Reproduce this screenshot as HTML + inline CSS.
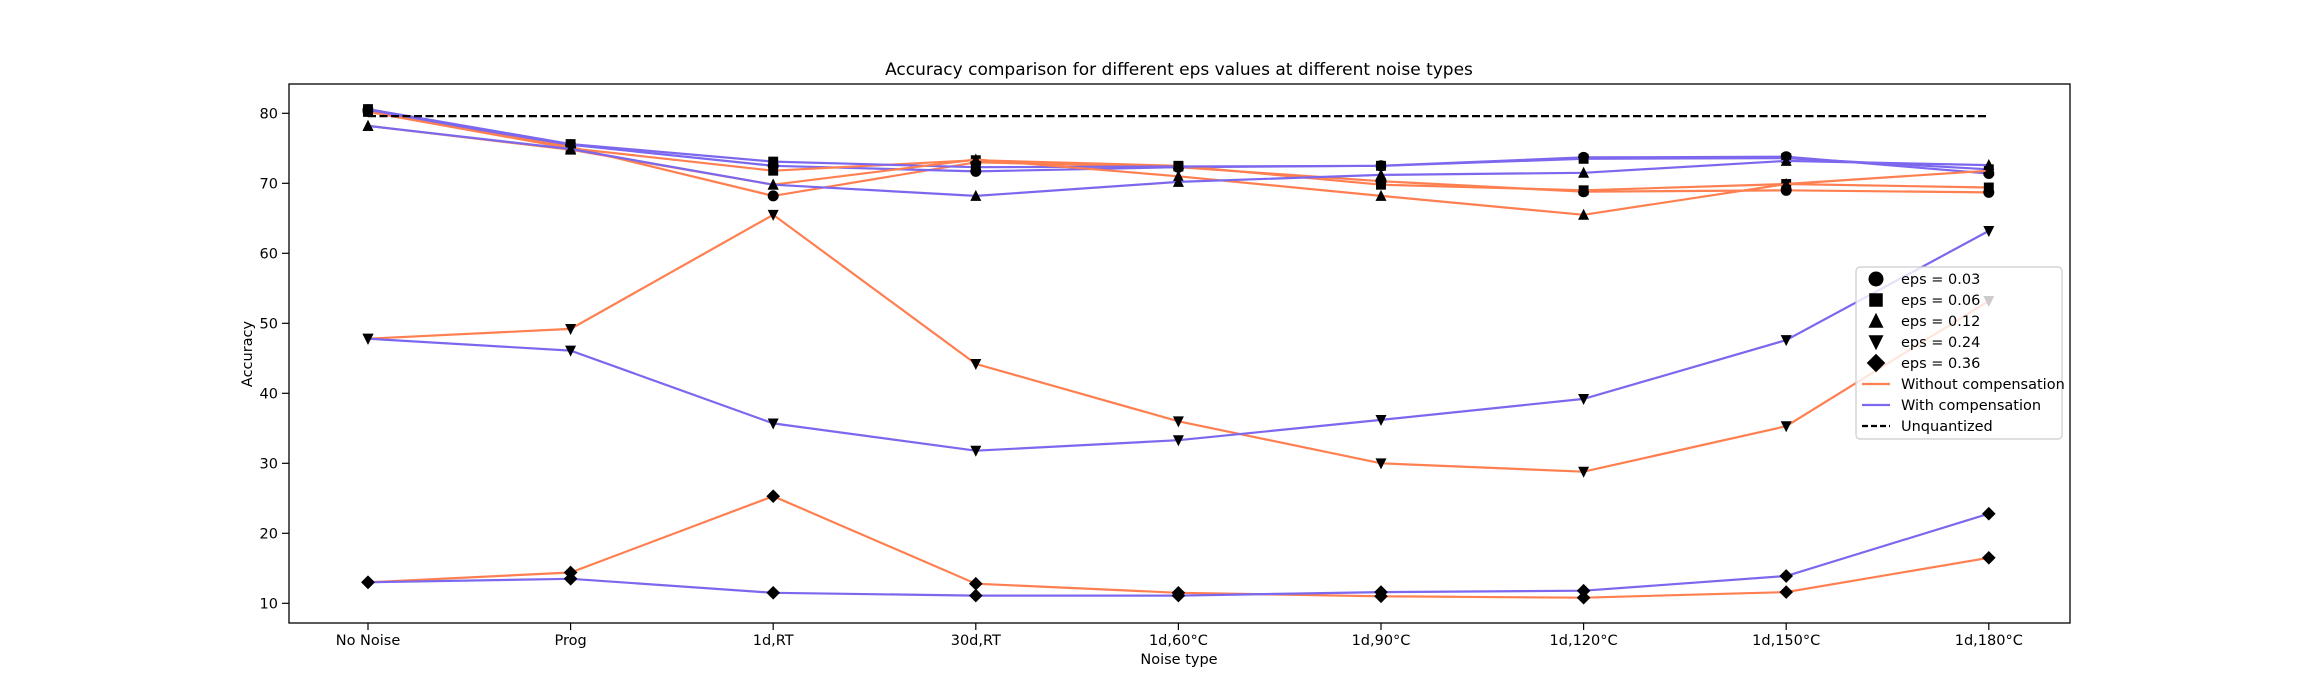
<!DOCTYPE html>
<html><head><meta charset="utf-8"><style>
html,body{margin:0;padding:0;background:#fff;}
svg{display:block;font-family:"DejaVu Sans","Liberation Sans",sans-serif;}
</style></head><body>
<svg id="chart" width="2300" height="700" xmlns="http://www.w3.org/2000/svg">
<rect width="2300" height="700" fill="#fff"/>
<text x="1179" y="75" font-size="17" text-anchor="middle">Accuracy comparison for different eps values at different noise types</text>
<g id="plot"></g>
<rect x="289" y="84" width="1781" height="539" fill="none" stroke="#000" stroke-width="1.3"/>
<text x="1179" y="664" font-size="14.5" text-anchor="middle">Noise type</text>
<text transform="translate(252,354) rotate(-90)" font-size="14.5" text-anchor="middle">Accuracy</text>
<g id="legend"></g>
</svg>
<script>
const categories = ["No Noise","Prog","1d,RT","30d,RT","1d,60°C","1d,90°C","1d,120°C","1d,150°C","1d,180°C"];
const yTicks = [10,20,30,40,50,60,70,80];
const epsLabels = ["eps = 0.03","eps = 0.06","eps = 0.12","eps = 0.24","eps = 0.36"];
const eps003Without = [80.5,75.2,68.2,73.0,72.3,70.3,68.8,69.0,68.7];
const eps003With = [80.3,75.5,72.5,71.7,72.3,72.5,73.7,73.8,71.4];
const eps006Without = [80.2,75.0,71.8,73.3,72.5,69.8,69.0,69.9,69.4];
const eps006With = [80.6,75.6,73.1,72.3,72.4,72.5,73.5,73.6,72.0];
const eps012Without = [78.2,74.8,69.8,73.4,71.0,68.2,65.5,69.9,71.8];
const eps012With = [78.2,74.9,69.8,68.2,70.2,71.2,71.5,73.2,72.6];
const eps024Without = [47.8,49.2,65.5,44.2,36.0,30.0,28.8,35.3,53.2];
const eps024With = [47.8,46.1,35.7,31.8,33.3,36.2,39.2,47.6,63.2];
const eps036Without = [13.0,14.4,25.3,12.8,11.5,11.0,10.8,11.6,16.5];
const eps036With = [13.0,13.5,11.5,11.1,11.1,11.6,11.8,13.9,22.8];
const unquantized = 79.6;

const NS="http://www.w3.org/2000/svg";
const X0=368, DX=202.6;
function xs(i){return X0+i*DX;}
function ys(v){return 113.3+(80-v)*7.0;}
const ORANGE="#FF7F50", BLUE="#7B68EE";
const svg=document.getElementById('chart');
const plot=document.getElementById('plot');
const legend=document.getElementById('legend');
function mk(tag,attrs,parent){const e=document.createElementNS(NS,tag);for(const k in attrs)e.setAttribute(k,attrs[k]);(parent||plot).appendChild(e);return e;}
function marker(shape,cx,cy,s,parent){
  let e;
  if(shape==='o'){e=mk('circle',{cx:cx,cy:cy,r:s*0.5,fill:'#000'},parent);}
  else if(shape==='s'){e=mk('rect',{x:cx-s*0.45,y:cy-s*0.45,width:s*0.9,height:s*0.9,fill:'#000'},parent);}
  else if(shape==='^'){e=mk('polygon',{points:`${cx},${cy-s*0.55} ${cx-s*0.5},${cy+s*0.45} ${cx+s*0.5},${cy+s*0.45}`,fill:'#000'},parent);}
  else if(shape==='v'){e=mk('polygon',{points:`${cx},${cy+s*0.55} ${cx-s*0.5},${cy-s*0.45} ${cx+s*0.5},${cy-s*0.45}`,fill:'#000'},parent);}
  else {e=mk('polygon',{points:`${cx},${cy-s*0.62} ${cx-s*0.62},${cy} ${cx},${cy+s*0.62} ${cx+s*0.62},${cy}`,fill:'#000'},parent);}
  return e;
}
yTicks.forEach(v=>{
  const t=mk('line',{x1:282,x2:289,y1:ys(v),y2:ys(v),stroke:'#000','stroke-width':1.2},svg);
  
  
  const l=mk('text',{x:278,y:ys(v)+5,'font-size':14.5,'text-anchor':'end'},svg);
  l.textContent=v;
  
  
});
categories.forEach((c,i)=>{
  const t=mk('line',{x1:xs(i),x2:xs(i),y1:623,y2:630,stroke:'#000','stroke-width':1.2},svg);
  
  
  const l=mk('text',{x:xs(i),y:645,'font-size':14.5,'text-anchor':'middle'},svg);
  l.textContent=c;
  
  
});
const series=[
  [eps003Without,ORANGE,'o','eps003-without'],[eps003With,BLUE,'o','eps003-with'],
  [eps006Without,ORANGE,'s','eps006-without'],[eps006With,BLUE,'s','eps006-with'],
  [eps012Without,ORANGE,'^','eps012-without'],[eps012With,BLUE,'^','eps012-with'],
  [eps024Without,ORANGE,'v','eps024-without'],[eps024With,BLUE,'v','eps024-with'],
  [eps036Without,ORANGE,'d','eps036-without'],[eps036With,BLUE,'d','eps036-with']
];
series.forEach(([vals,col,shape,name])=>{
  const pl=mk('polyline',{points:vals.map((v,i)=>xs(i)+','+ys(v)).join(' '),fill:'none',stroke:col,'stroke-width':2.2});
  
  
  vals.forEach((v,i)=>{
    const m=marker(shape,xs(i),ys(v),11);
    
    
  });
});
const uq=mk('line',{x1:xs(0),x2:xs(8),y1:ys(unquantized),y2:ys(unquantized),stroke:'#000','stroke-width':2.2,'stroke-dasharray':'8,3.5'});


const lb=mk('rect',{x:1856,y:267,width:206,height:172,rx:4,fill:'#fff','fill-opacity':0.8,stroke:'#ccc','stroke-width':1.2},legend);


const shapes=['o','s','^','v','d'];
epsLabels.forEach((lab,k)=>{
  const y=279+k*21;
  const m=marker(shapes[k],1876,y,15,legend);
  
  
  const t=mk('text',{x:1901,y:y+5,'font-size':14.5},legend);
  t.textContent=lab;
  
  
});
[['Without compensation',ORANGE,null],['With compensation',BLUE,null],['Unquantized','#000','6,3']].forEach(([lab,col,dash],k)=>{
  const y=279+(5+k)*21;
  const a={x1:1862,x2:1890,y1:y,y2:y,stroke:col,'stroke-width':2.2};
  if(dash)a['stroke-dasharray']=dash;
  const l=mk('line',a,legend);
  
  
  const t=mk('text',{x:1901,y:y+5,'font-size':14.5},legend);
  t.textContent=lab;
  
  
});
</script>
</body></html>
